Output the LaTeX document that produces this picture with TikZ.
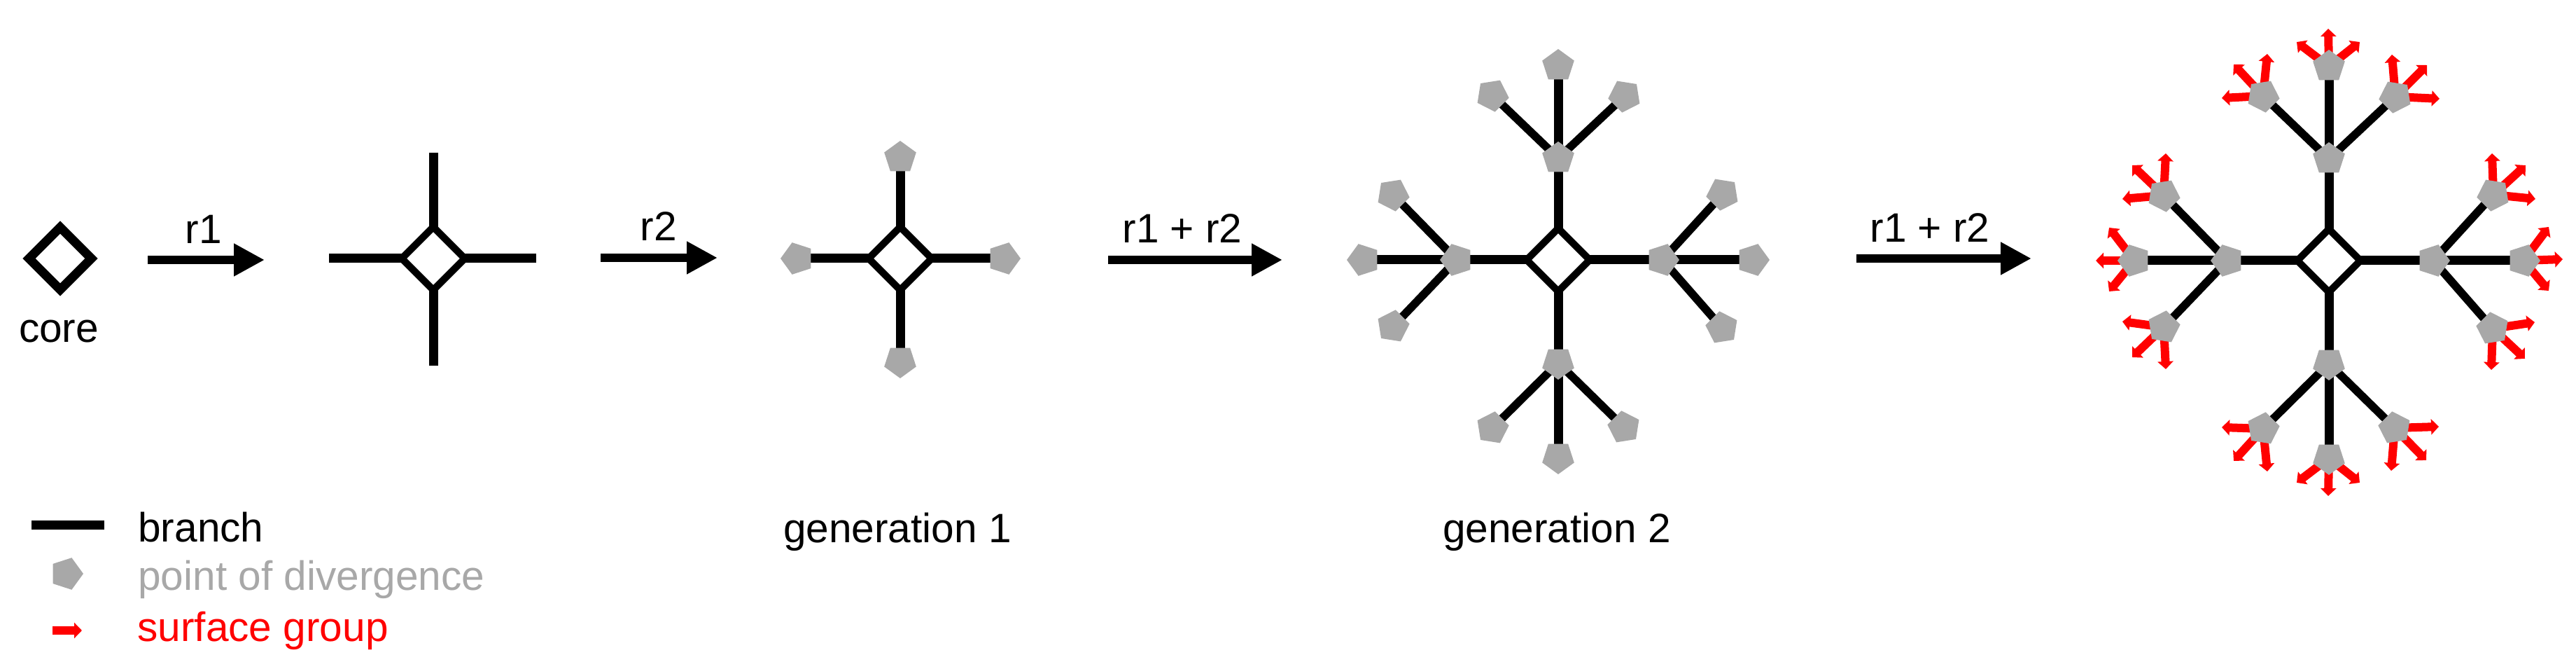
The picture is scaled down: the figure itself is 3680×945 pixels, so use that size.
\documentclass[tikz,border=0pt]{standalone}
\usepackage{fontspec}
\setmainfont{Liberation Sans}
\usetikzlibrary{arrows.meta,shapes.geometric,backgrounds}
\definecolor{divgray}{HTML}{A8A8A8}
\definecolor{surfred}{HTML}{FF0000}
\tikzset{
    txt/.style={anchor=base,inner sep=0pt,font=\fontsize{29.3}{35}\selectfont},
    legendtxt/.style={txt,anchor=base west},
    branch/.style={line width=6.5pt},
    twig/.style={line width=5.8pt},
    react/.style={line width=6.3pt,-{Triangle[length=22pt,width=22pt]}},
    surface/.style={surfred,line width=6pt,-{Triangle[length=5.5pt,width=11pt]}},
    core/.style={diamond,draw,line width=6.5pt,inner sep=0pt,outer sep=0pt,minimum width=44.5pt,minimum height=44.5pt},
    hub/.style={diamond,draw,line width=5pt,inner sep=0pt,outer sep=0pt,minimum width=45pt,minimum height=45pt},
    pent/.style={regular polygon,regular polygon sides=5,fill=divgray,inner sep=0pt,outer sep=0pt,minimum size=24pt},
}
% 第二代骨架
\newcommand{\genshape}[3]{
    \node[hub] (#1) at (#2,#3) {};
    \begin{scope}[shift={(#2,#3)}]
        \foreach \pname/\dx/\dy/\prot in {tm/0/-145/0,tf/0/-277/0,tl/-94/-235/-27,tr/95/-234/27,
                lm/-145/0/90,lf/-278/0/90,lu/-236/-93/-27,ld/-236/95/-9,
                bm/0/147/180,bf/0/282/180,bl/-94/240/-9,br/94/239/9,
                rm/149/0/-90,rf/278/0/-90,ru/235/-94/27,rd/234/97/9}
            \node[pent,rotate=\prot] (#1\pname) at (\dx,\dy) {};
    \end{scope}
    \begin{scope}[on background layer]
        \draw[branch] (#1.north) -- (#1tm.center) -- (#1tf.center);
        \draw[branch] (#1.west) -- (#1lm.center) -- (#1lf.center);
        \draw[branch] (#1.south) -- (#1bm.center) -- (#1bf.center);
        \draw[branch] (#1.east) -- (#1rm.center) -- (#1rf.center);
        \foreach \pa/\pb in {tm/tl,tm/tr,lm/lu,lm/ld,bm/bl,bm/br,rm/ru,rm/rd}
            \draw[twig] (#1\pa.center) -- (#1\pb.center);
    \end{scope}
}

\begin{document}
\begin{tikzpicture}[x=0.5pt,y=-0.5pt]
    \useasboundingbox (0,0) rectangle (3680,945);

    % 核
    \node[core] (core) at (86,369) {};
    \node[txt] (corelabel) at (84,489) {core};

    % 反应箭头
    \coordinate (afrom1) at (211,371);
    \coordinate (ato1) at (378,371);
    \draw[react] (afrom1) -- (ato1);
    \node[txt] (rlabel1) at (291,348) {r1};
    \coordinate (afrom2) at (858,368);
    \coordinate (ato2) at (1025,368);
    \draw[react] (afrom2) -- (ato2);
    \node[txt] (rlabel2) at (941,344) {r2};
    \coordinate (afrom3) at (1583,371);
    \coordinate (ato3) at (1832,371);
    \draw[react] (afrom3) -- (ato3);
    \node[txt] (rlabel3) at (1689,347) {r1 + r2};
    \coordinate (afrom4) at (2652,369);
    \coordinate (ato4) at (2902,369);
    \draw[react] (afrom4) -- (ato4);
    \node[txt] (rlabel4) at (2757,346) {r1 + r2};

    % 十字
    \node[hub] (cross) at (619,369) {};
    \coordinate (crossn) at (619,218);
    \coordinate (crosss) at (619,522);
    \coordinate (crossw) at (470,369);
    \coordinate (crosse) at (766,369);
    \draw[branch] (cross.north) -- (crossn);
    \draw[branch] (cross.south) -- (crosss);
    \draw[branch] (cross.west) -- (crossw);
    \draw[branch] (cross.east) -- (crosse);

    % 第一代
    \node[hub] (gone) at (1286,369) {};
    \node[pent] (gonet) at (1286,225) {};
    \node[pent,rotate=180] (goneb) at (1286,516) {};
    \node[pent,rotate=90] (gonel) at (1139,369) {};
    \node[pent,rotate=-90] (goner) at (1434,369) {};
    \begin{scope}[on background layer]
        \draw[branch] (gone.north) -- (gonet.center);
        \draw[branch] (gone.south) -- (goneb.center);
        \draw[branch] (gone.west) -- (gonel.center);
        \draw[branch] (gone.east) -- (goner.center);
    \end{scope}
    \node[txt] (gonelabel) at (1282,775) {generation 1};

    % 第二代
    \genshape{gtwo}{2226}{371}
    \node[txt] (gtwolabel) at (2224,775) {generation 2};

    % 带表面基团的第二代
    \genshape{gsrf}{3327}{372}
    \begin{scope}[on background layer]
        \foreach \pname/\dx/\dy [count=\i] in {tf/-1/-54,tf/-46/-35,tf/44/-35,
                tl/6/-60,tl/-42/-45,tl/-59/3,
                tr/-5/-60,tr/45/-45,tr/63/3,
                lu/3/-60,lu/-45/-43,lu/-59/5,
                lf/-36/-47,lf/-55/0,lf/-36/44,
                ld/-59/-8,ld/-45/43,ld/3/60,
                bf/-46/35,bf/-1/54,bf/44/35,
                bl/-59/-2,bl/-42/46,bl/6/61,
                br/63/-2,br/45/46,br/-5/61,
                ru/-2/-59,ru/46/-42,ru/60/6,
                rf/36/-48,rf/56/-2,rf/36/43,
                rd/60/-9,rd/46/43,rd/-2/59}
        {
            \path (gsrf\pname.center) ++(\dx,\dy) coordinate (tip\i);
            \draw[surface] (gsrf\pname.center) -- (tip\i);
        }
    \end{scope}

    % 图例
    \coordinate (lega) at (45,750);
    \coordinate (legb) at (149,750);
    \draw[branch] (lega) -- (legb);
    \node[legendtxt] (legbranch) at (197,774) {branch};
    \node[pent,rotate=-90] (legpent) at (95,819) {};
    \node[legendtxt,text=divgray] (legdiv) at (197,843) {point of divergence};
    \coordinate (legc) at (75,900);
    \coordinate (legd) at (117,900);
    \draw[surface] (legc) -- (legd);
    \node[legendtxt,text=surfred] (legsurf) at (196,915) {surface group};
\end{tikzpicture}
\end{document}
